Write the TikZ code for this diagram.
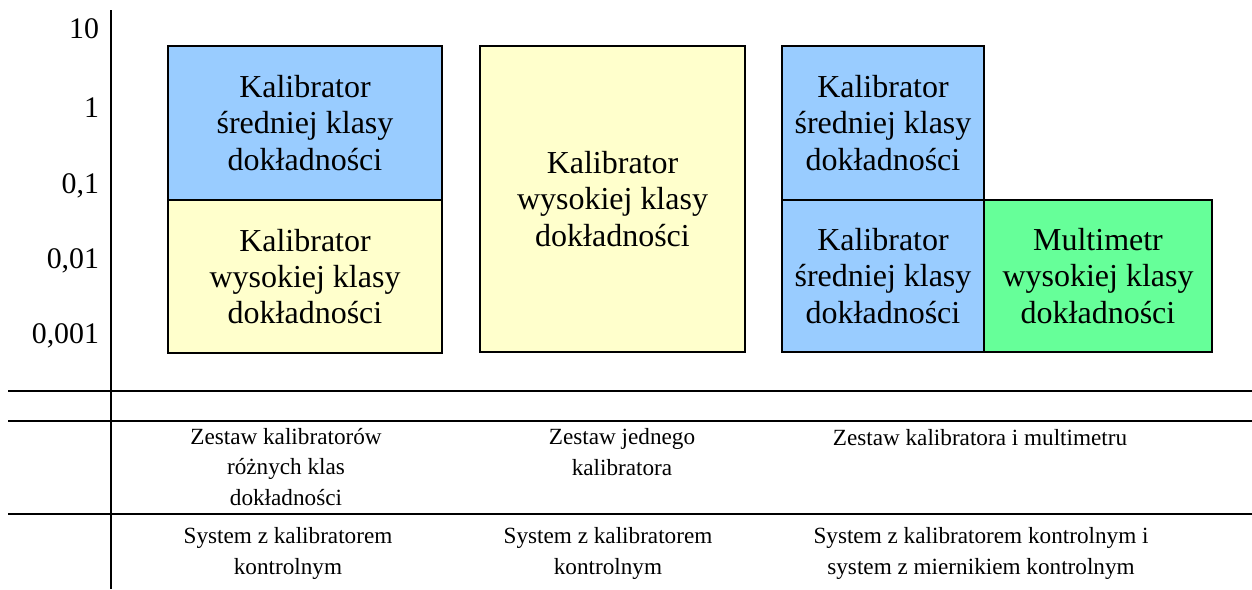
\documentclass[tikz,border=0pt]{standalone}
\usepackage{fontspec}
\setmainfont{Liberation Serif}
\usepackage{tikz}
\usetikzlibrary{positioning}

\definecolor{kalblue}{HTML}{99CCFF}
\definecolor{kalyellow}{HTML}{FFFFCC}
\definecolor{multgreen}{HTML}{66FF99}

\begin{document}
\begin{tikzpicture}[x=0.2mm,y=-0.2mm,line width=1.1pt,
  kbox/.style={draw,inner sep=0pt,outer sep=0pt,align=center,
    font=\fontsize{18.2}{20.7}\selectfont},
  tick/.style={anchor=base east,inner sep=0pt,font=\fontsize{17}{20}\selectfont},
  desc/.style={anchor=base,inner sep=0pt,align=center,
    font=\fontsize{13.2}{17.2}\selectfont}]
  \useasboundingbox (0,0) rectangle (1252,589);
  % axis and table lines
  \coordinate (axtop) at (111,10);
  \coordinate (axbot) at (111,589);
  \draw (axtop) -- (axbot);
  \foreach \yy/\nm in {391/ra,421/rb,514/rc} {
    \coordinate (\nm l) at (8,\yy);
    \coordinate (\nm r) at (1252,\yy);
    \draw (\nm l) -- (\nm r);
  }
  % scale
  \node[tick] (t10) at (100,38) {10};
  \node[tick] (t1) at (100,117) {1};
  \node[tick] (t01) at (100,193) {0,1};
  \node[tick] (t001) at (100,268) {0,01};
  \node[tick] (t0001) at (100,343) {0,001};
  % first set
  \node[kbox,fill=kalblue,minimum width=54.8mm,minimum height=30.8mm] (sr1) at (305,123)
    {Kalibrator\\średniej klasy\\dokładności};
  \node[kbox,fill=kalyellow,minimum width=54.8mm,minimum height=30.6mm] (wy1) at (305,276.5)
    {Kalibrator\\wysokiej klasy\\dokładności};
  % second set
  \node[kbox,fill=kalyellow,minimum width=53mm,minimum height=61.2mm] (wy2) at (612.5,199)
    {Kalibrator\\wysokiej klasy\\dokładności};
  % third set
  \node[kbox,fill=kalblue,minimum width=40.4mm,minimum height=30.8mm] (sr3) at (883,123)
    {Kalibrator\\średniej klasy\\dokładności};
  \node[kbox,fill=kalblue,minimum width=40.4mm,minimum height=30.4mm] (sr4) at (883,276)
    {Kalibrator\\średniej klasy\\dokładności};
  \node[kbox,fill=multgreen,minimum width=45.6mm,minimum height=30.4mm,right=0pt of sr4] (mult)
    {Multimetr\\wysokiej klasy\\dokładności};
  % descriptions (anchored on the last line)
  \node[desc] (zest1) at (286,505) {Zestaw kalibratorów\\różnych klas\\dokładności};
  \node[desc] (zest2) at (622,475) {Zestaw jednego\\kalibratora};
  \node[desc] (zest3) at (980,445) {Zestaw kalibratora i multimetru};
  \node[desc] (sys1) at (288,574) {System z kalibratorem\\kontrolnym};
  \node[desc] (sys2) at (608,574) {System z kalibratorem\\kontrolnym};
  \node[desc] (sys3) at (981,574) {System z kalibratorem kontrolnym i\\system z miernikiem kontrolnym};
\end{tikzpicture}
\end{document}
